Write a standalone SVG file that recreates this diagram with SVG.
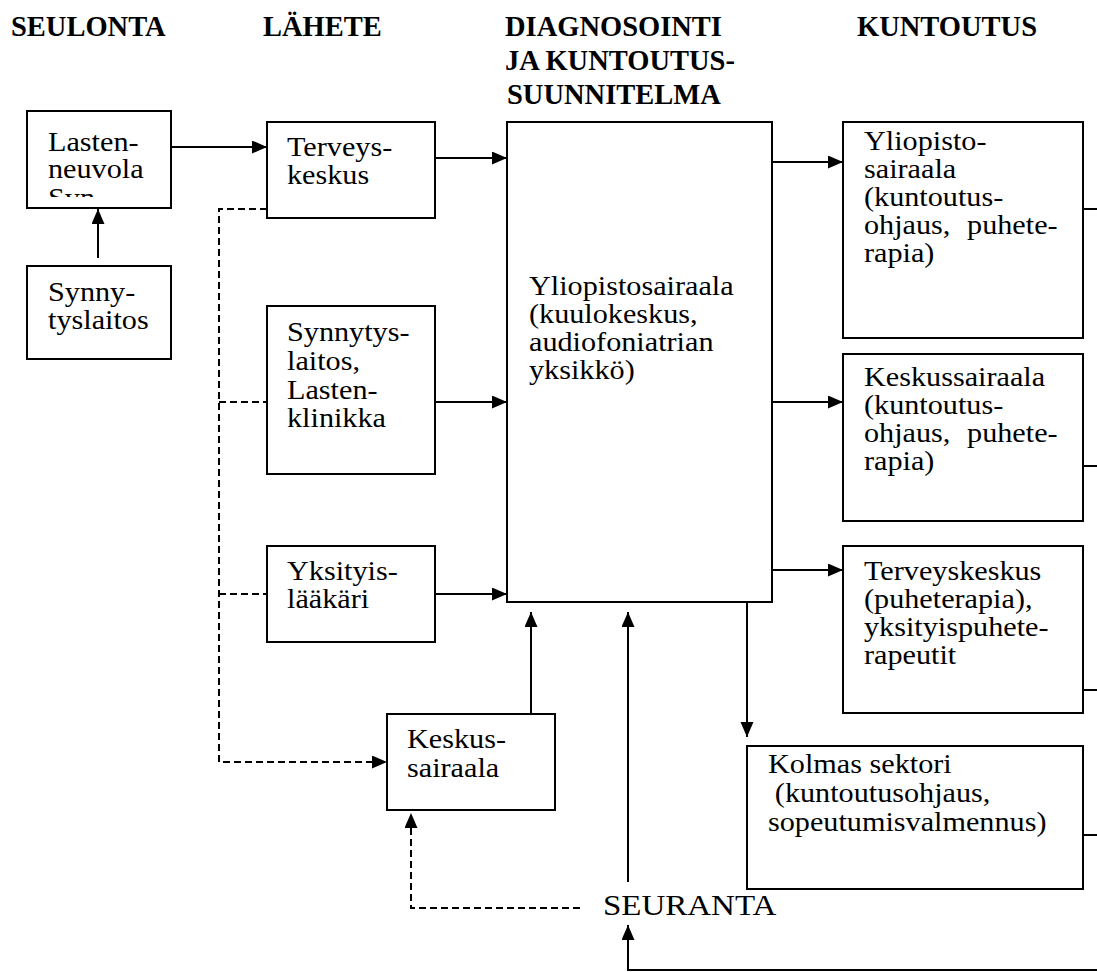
<svg xmlns="http://www.w3.org/2000/svg" width="1097" height="972" viewBox="0 0 1097 972">
  <style>
    .box { fill: #fff; stroke: #000; stroke-width: 2; }
    .ln { fill: none; stroke: #000; stroke-width: 2; }
    .dash { fill: none; stroke: #000; stroke-width: 2; stroke-dasharray: 7 4; }
    .t { font-family: "Liberation Serif", "Times New Roman", serif; font-size: 26.5px; fill: #000; }
    .big { font-family: "Liberation Serif", "Times New Roman", serif; font-size: 30px; fill: #000; }
    .h { font-family: "Liberation Serif", "Times New Roman", serif; font-size: 28.5px; font-weight: bold; fill: #000; }
    .wide { word-spacing: 8px; }
  </style>
  <defs>
    <marker id="arrow" markerUnits="userSpaceOnUse" markerWidth="16" markerHeight="14" refX="15" refY="6.5" orient="auto">
      <path d="M0,0 L15,6.5 L0,13 z" fill="#000"/>
    </marker>
    <clipPath id="clipLasten">
      <rect x="27" y="111" width="144" height="86"/>
    </clipPath>
  </defs>
  <rect width="1097" height="972" fill="#fff"/>

  <!-- column headings -->
  <g id="headings">
    <text class="h" x="11" y="36">SEULONTA</text>
    <text class="h" x="263" y="36">LÄHETE</text>
    <text class="h" x="505" y="36">DIAGNOSOINTI</text>
    <text class="h" x="505" y="70">JA KUNTOUTUS-</text>
    <text class="h" x="507" y="104">SUUNNITELMA</text>
    <text class="h" x="857" y="36">KUNTOUTUS</text>
  </g>

  <!-- connectors -->
  <g id="connectors">
    <line class="ln" x1="171" y1="147" x2="267" y2="147" marker-end="url(#arrow)"/>
    <line class="ln" x1="98" y1="258" x2="98" y2="209" marker-end="url(#arrow)"/>
    <line class="ln" x1="435" y1="158" x2="507" y2="158" marker-end="url(#arrow)"/>
    <line class="ln" x1="435" y1="402" x2="507" y2="402" marker-end="url(#arrow)"/>
    <line class="ln" x1="435" y1="594" x2="507" y2="594" marker-end="url(#arrow)"/>
    <polyline class="dash" points="267,209 219,209 219,762 387,762" marker-end="url(#arrow)"/>
    <line class="dash" x1="219" y1="402" x2="267" y2="402"/>
    <line class="dash" x1="219" y1="594" x2="267" y2="594"/>
    <line class="ln" x1="531" y1="714" x2="531" y2="612" marker-end="url(#arrow)"/>
    <line class="ln" x1="628" y1="882" x2="628" y2="612" marker-end="url(#arrow)"/>
    <polyline class="dash" points="580,908 411,908 411,813" marker-end="url(#arrow)"/>
    <line class="ln" x1="772" y1="162" x2="843" y2="162" marker-end="url(#arrow)"/>
    <line class="ln" x1="772" y1="402" x2="843" y2="402" marker-end="url(#arrow)"/>
    <line class="ln" x1="772" y1="570" x2="843" y2="570" marker-end="url(#arrow)"/>
    <line class="ln" x1="747" y1="602" x2="747" y2="737" marker-end="url(#arrow)"/>
    <line class="ln" x1="1083" y1="209" x2="1097" y2="209"/>
    <line class="ln" x1="1083" y1="466" x2="1097" y2="466"/>
    <line class="ln" x1="1083" y1="690" x2="1097" y2="690"/>
    <line class="ln" x1="1083" y1="835" x2="1097" y2="835"/>
    <polyline class="ln" points="1097,970 628,970 628,925" marker-end="url(#arrow)"/>
  </g>

  <g id="lastenneuvola">
    <rect class="box" x="27" y="111" width="144" height="97"/>
    <g clip-path="url(#clipLasten)">
      <text class="t" transform="translate(48 0) scale(1.14 1)">
        <tspan x="0" y="151">Lasten-</tspan>
        <tspan x="0" y="178">neuvola</tspan>
        <tspan x="0" y="207">Syn</tspan>
      </text>
    </g>
  </g>

  <g id="synnytyslaitos">
    <rect class="box" x="27" y="266" width="144" height="93"/>
    <text class="t" transform="translate(48 0) scale(1.14 1)">
      <tspan x="0" y="301">Synny-</tspan>
      <tspan x="0" y="329">tyslaitos</tspan>
    </text>
  </g>

  <g id="terveyskeskus">
    <rect class="box" x="267" y="122" width="168" height="96"/>
    <text class="t" transform="translate(287 0) scale(1.14 1)">
      <tspan x="0" y="156">Terveys-</tspan>
      <tspan x="0" y="184">keskus</tspan>
    </text>
  </g>

  <g id="synnytyslaitos-lastenklinikka">
    <rect class="box" x="267" y="306" width="168" height="168"/>
    <text class="t" transform="translate(287 0) scale(1.14 1)">
      <tspan x="0" y="341">Synnytys-</tspan>
      <tspan x="0" y="370">laitos,</tspan>
      <tspan x="0" y="399">Lasten-</tspan>
      <tspan x="0" y="427">klinikka</tspan>
    </text>
  </g>

  <g id="yksityislaakari">
    <rect class="box" x="267" y="546" width="168" height="96"/>
    <text class="t" transform="translate(287 0) scale(1.14 1)">
      <tspan x="0" y="580">Yksityis-</tspan>
      <tspan x="0" y="608">lääkäri</tspan>
    </text>
  </g>

  <g id="keskussairaala-lahete">
    <rect class="box" x="387" y="714" width="168" height="96"/>
    <text class="t" transform="translate(407 0) scale(1.14 1)">
      <tspan x="0" y="748">Keskus-</tspan>
      <tspan x="0" y="777">sairaala</tspan>
    </text>
  </g>

  <g id="yliopistosairaala-diagnosointi">
    <rect class="box" x="507" y="122" width="265" height="480"/>
    <text class="t" transform="translate(529 0) scale(1.14 1)">
      <tspan x="0" y="295">Yliopistosairaala</tspan>
      <tspan x="0" y="323">(kuulokeskus,</tspan>
      <tspan x="0" y="351">audiofoniatrian</tspan>
      <tspan x="0" y="379">yksikkö)</tspan>
    </text>
  </g>

  <g id="yliopistosairaala-kuntoutus">
    <rect class="box" x="843" y="122" width="240" height="216"/>
    <text class="t" transform="translate(864 0) scale(1.14 1)">
      <tspan x="0" y="150">Yliopisto-</tspan>
      <tspan x="0" y="178">sairaala</tspan>
      <tspan x="0" y="206">(kuntoutus-</tspan>
      <tspan class="wide" x="0" y="234">ohjaus, puhete-</tspan>
      <tspan x="0" y="262">rapia)</tspan>
    </text>
  </g>

  <g id="keskussairaala-kuntoutus">
    <rect class="box" x="843" y="354" width="240" height="167"/>
    <text class="t" transform="translate(864 0) scale(1.14 1)">
      <tspan x="0" y="386">Keskussairaala</tspan>
      <tspan x="0" y="414">(kuntoutus-</tspan>
      <tspan class="wide" x="0" y="442">ohjaus, puhete-</tspan>
      <tspan x="0" y="470">rapia)</tspan>
    </text>
  </g>

  <g id="terveyskeskus-kuntoutus">
    <rect class="box" x="843" y="546" width="240" height="167"/>
    <text class="t" transform="translate(864 0) scale(1.14 1)">
      <tspan x="0" y="580">Terveyskeskus</tspan>
      <tspan x="0" y="608">(puheterapia),</tspan>
      <tspan x="0" y="636">yksityispuhete-</tspan>
      <tspan x="0" y="664">rapeutit</tspan>
    </text>
  </g>

  <g id="kolmas-sektori">
    <rect class="box" x="747" y="746" width="336" height="143"/>
    <text class="t" transform="translate(768 0) scale(1.14 1)">
      <tspan x="0" y="773">Kolmas sektori</tspan>
      <tspan x="6" y="802">(kuntoutusohjaus,</tspan>
      <tspan x="0" y="831">sopeutumisvalmennus)</tspan>
    </text>
  </g>

  <g id="seuranta">
    <text class="big" transform="translate(603 0) scale(1.1 1)" x="0" y="915">SEURANTA</text>
  </g>
</svg>
